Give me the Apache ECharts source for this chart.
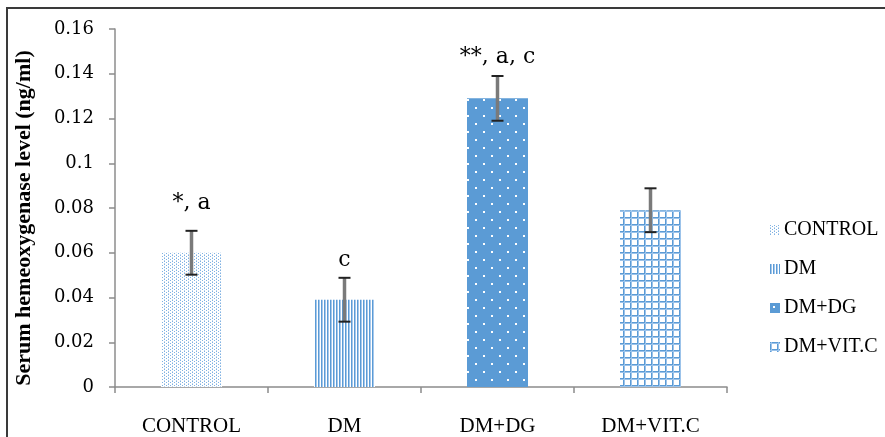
<!DOCTYPE html>
<html><head><meta charset="utf-8">
<script src="https://cdn.jsdelivr.net/npm/echarts@6/dist/echarts.min.js"></script>
<style>html,body{margin:0;padding:0;background:#fff}#c{width:885px;height:437px}</style>
</head><body><div id="c"></div>
<script>
const categories = ['CONTROL', 'DM', 'DM+DG', 'DM+VIT.C'];
const means = [0.060, 0.039, 0.129, 0.079];
const errors = [0.0098, 0.0098, 0.0100, 0.0098];
const annotations = ['*, a', 'c', '**, a, c', ''];
const yMin = 0, yMax = 0.16, yStep = 0.02;
const yTitle = 'Serum hemeoxygenase level (ng/ml)';

// style: pixel gap between error cap and annotation centre
const annotGap = [28, 18, 19, 0];

function pat(w, h, draw) {
  const c = document.createElement('canvas');
  c.width = w; c.height = h;
  const g = c.getContext('2d');
  g.fillStyle = '#fff'; g.fillRect(0, 0, w, h);
  draw(g);
  return { image: c, repeat: 'repeat' };
}
const blue = '#5b9bd5';
const patterns = [
  pat(4, 3, g => { g.fillStyle = '#7fb1e2'; g.fillRect(0, 0, 1, 1); g.fillRect(2, 1, 1, 1); g.fillStyle='#b9d4ef'; g.fillRect(0,2,1,1); }),
  pat(3, 4, g => { g.fillStyle = blue; g.fillRect(0, 0, 1, 4); g.fillStyle = '#a6c8ec'; g.fillRect(1, 0, 1, 4); }),
  pat(16, 16, g => { g.fillStyle = blue; g.fillRect(0, 0, 16, 16); g.fillStyle = '#fff'; g.fillRect(3, 3, 2, 2); g.fillRect(11, 11, 2, 2); }),
  pat(7, 7, g => { g.fillStyle = blue; g.fillRect(0, 0, 1, 7); g.fillRect(0, 0, 7, 1); g.fillStyle = '#9cc3ea'; g.fillRect(1, 0, 1, 7); g.fillRect(0, 1, 7, 1); })
];

const chart = echarts.init(document.getElementById('c'), null, { renderer: 'canvas' });
const barSeries = categories.map((name, i) => ({
  name: name,
  type: 'bar',
  barWidth: 61,
  barGap: '-100%',
  data: categories.map((c, j) => (j === i ? means[i] : '-')),
  itemStyle: { color: patterns[i] },
  emphasis: { disabled: true },
  z: 2
}));

const errData = categories.map((c, i) => [i, means[i], errors[i]]);

const option = {
  animation: false,
  backgroundColor: '#fff',
  graphic: [{
    type: 'rect', shape: { x: 7, y: 8, width: 1000, height: 1000 },
    style: { fill: 'none', stroke: '#3a3a3a', lineWidth: 2 }, silent: true
  }],
  grid: { left: 115, right: 158, top: 29, bottom: 48 },
  legend: {
    data: categories,
    orient: 'vertical',
    left: 765, top: 215,
    itemWidth: 10, itemHeight: 10,
    itemGap: 19,
    icon: 'rect',
    textStyle: { fontFamily: 'Liberation Serif', fontSize: 20, color: '#000', padding: [0, 0, 0, -1] }
  },
  xAxis: {
    type: 'category',
    data: categories,
    axisLine: { lineStyle: { color: '#8c8c8c', width: 1.5 } },
    axisTick: { show: true, length: 6, lineStyle: { color: '#8c8c8c', width: 1.5 } },
    axisLabel: { fontFamily: 'Liberation Serif', fontSize: 21, color: '#000', margin: 29 },
    splitLine: { show: false }
  },
  yAxis: {
    type: 'value',
    min: yMin, max: yMax, interval: yStep,
    name: yTitle,
    nameLocation: 'middle',
    nameRotate: 90,
    nameGap: 80,
    nameTextStyle: { fontFamily: 'Liberation Serif', fontWeight: 'bold', fontSize: 22, color: '#000', padding: [0, 20, 0, 0] },
    axisLine: { show: true, lineStyle: { color: '#8c8c8c', width: 1.5 } },
    axisTick: { show: true, length: 6, lineStyle: { color: '#8c8c8c', width: 1.5 } },
    axisLabel: { fontFamily: 'DejaVu Serif', fontSize: 18, color: '#000', margin: 21 },
    splitLine: { show: false }
  },
  series: barSeries.concat([{
    type: 'custom',
    name: 'err',
    data: errData,
    z: 5,
    renderItem: function (params, api) {
      const x = api.value(0), m = api.value(1), e = api.value(2);
      const top = api.coord([x, m + e]);
      const bot = api.coord([x, m - e]);
      const i = params.dataIndex;
      const cw = 6;
      const children = [
        { type: 'line', shape: { x1: top[0], y1: top[1], x2: bot[0], y2: bot[1] }, style: { stroke: '#7a7a7a', lineWidth: 3.5 } },
        { type: 'line', shape: { x1: top[0] - cw, y1: top[1], x2: top[0] + cw, y2: top[1] }, style: { stroke: '#222', lineWidth: 2 } },
        { type: 'line', shape: { x1: bot[0] - cw, y1: bot[1], x2: bot[0] + cw, y2: bot[1] }, style: { stroke: '#222', lineWidth: 2 } }
      ];
      if (annotations[i]) {
        children.push({
          type: 'text',
          style: {
            x: top[0], y: top[1] - annotGap[i],
            text: annotations[i],
            fontFamily: 'DejaVu Serif', fontSize: 22, fill: '#000',
            align: 'center', verticalAlign: 'middle'
          }
        });
      }
      return { type: 'group', children: children };
    }
  }])
};
chart.setOption(option);
</script>
</body></html>
